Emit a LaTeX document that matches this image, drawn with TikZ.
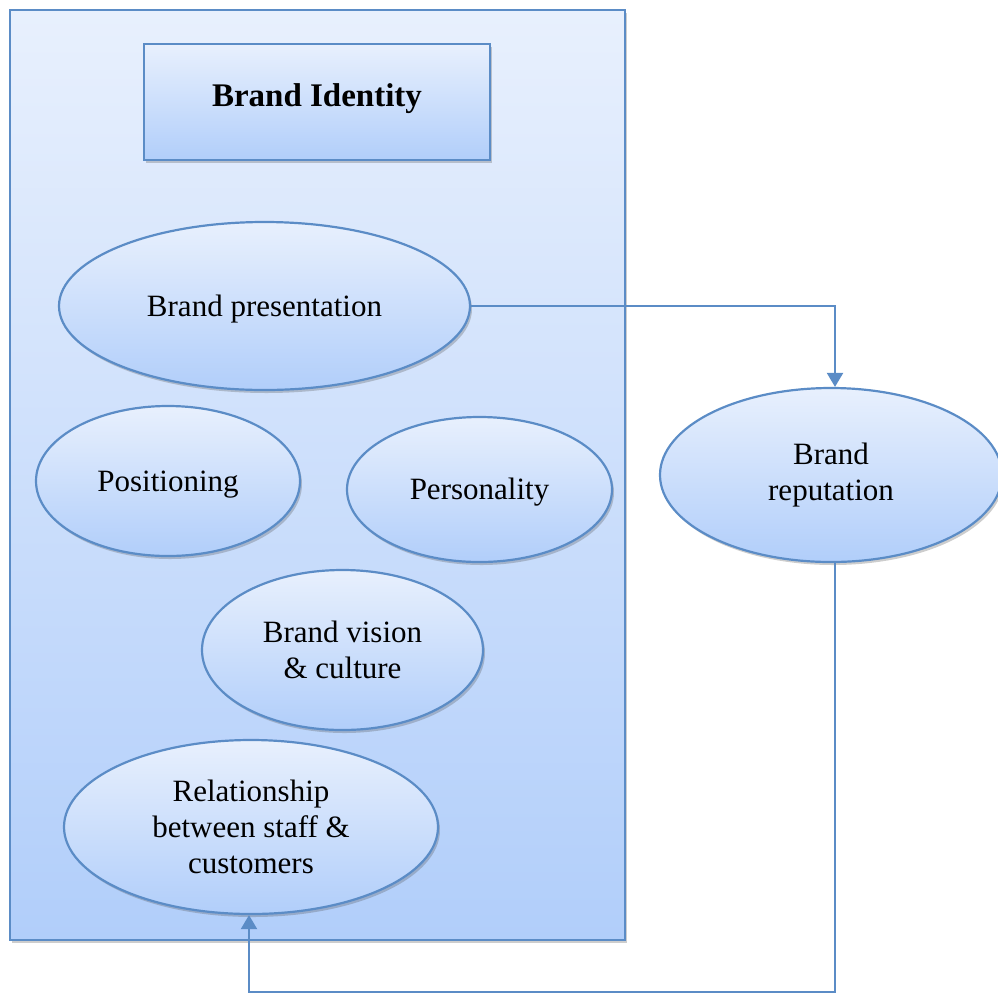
\documentclass[tikz,border=0pt]{standalone}
\usepackage{fontspec}
\setmainfont{Liberation Serif}
\usetikzlibrary{shapes.geometric,arrows.meta,shadows}

\definecolor{edge}{HTML}{5B8CC6}
\definecolor{lighttop}{HTML}{E8F0FD}
\definecolor{darkbot}{HTML}{B1CEFA}

\tikzset{
  soft shadow/.style={drop shadow={shadow xshift=2pt, shadow yshift=-3pt, opacity=0.28, fill=black!70}},
  panel/.style={draw=edge, line width=2.2pt, rectangle, inner sep=0pt,
    top color=lighttop, bottom color=darkbot, soft shadow},
  titlebox/.style={panel, font=\fontsize{33}{38}\selectfont\bfseries},
  bubble/.style={draw=edge, line width=2.2pt, ellipse, inner sep=0pt,
    top color=lighttop, bottom color=darkbot, soft shadow,
    align=center, font=\fontsize{31}{36}\selectfont},
  oneline/.style={text height=27pt, text depth=7pt},
  conn/.style={draw=edge, line width=2.2pt, -{Triangle[length=14pt,width=16pt]}},
}

\begin{document}
\begin{tikzpicture}[x=1pt, y=-1pt]
  \useasboundingbox (0,0) rectangle (998,994);

  % outer container for the identity components
  \node[panel, minimum width=615pt, minimum height=930pt] (frame) at (317.5,475) {};

  % heading box
  \node[titlebox, minimum width=346pt, minimum height=116pt, text depth=14pt] (bi) at (317,102) {Brand Identity};

  % identity components
  \node[bubble, oneline, minimum width=411pt, minimum height=168pt] (bp) at (264.5,306) {Brand presentation};
  \node[bubble, oneline, minimum width=264pt, minimum height=150pt] (pos) at (168,481) {Positioning};
  \node[bubble, oneline, minimum width=265pt, minimum height=145pt] (per) at (479.5,489.5) {Personality};
  \node[bubble, minimum width=281pt, minimum height=160pt] (vis) at (342.5,650) {Brand vision\\\& culture};
  \node[bubble, minimum width=374pt, minimum height=174pt] (rel) at (251,827) {Relationship\\between staff \&\\customers};

  % outcome
  \node[bubble, minimum width=342pt, minimum height=174pt] (rep) at (831,475) {Brand\\reputation};

  % feedback loop
  \coordinate (low) at (0,992);
  \draw[conn] (bp.east) -| ([xshift=4pt]rep.north);
  \draw[conn] ([xshift=4pt]rep.south) -- ([xshift=4pt]rep.south |- low) -| ([xshift=-2pt]rel.south);
\end{tikzpicture}
\end{document}
